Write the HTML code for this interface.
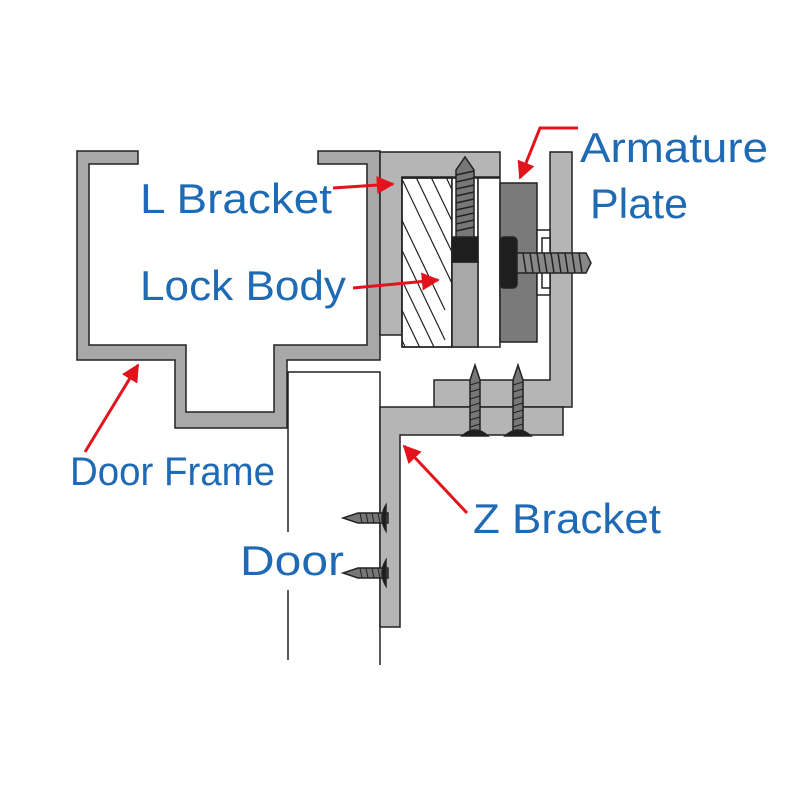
<!DOCTYPE html>
<html><head><style>html,body{margin:0;padding:0;background:#fff}svg{display:block}</style></head>
<body>
<svg width="800" height="800" viewBox="0 0 800 800" xmlns="http://www.w3.org/2000/svg">
<defs>
<clipPath id="lb"><rect x="402" y="178" width="50" height="169"/></clipPath>
<marker id="ah" viewBox="0 0 10 10" refX="9" refY="5" markerWidth="6" markerHeight="6" orient="auto"><path d="M0,0 L10,5 L0,10 z" fill="#e3131b"/></marker>
</defs>
<g stroke="#222" stroke-width="1.5">
<path d="M77,151 H138 V164 H89 V345 H186 V412 H274 V345 H367 V164 H318 V151 H380 V360 H287 V428 H175 V360 H77 Z" fill="#a8a8a8"/>
<path d="M288,660 V590 M288,532 V372 H380 V665" fill="none"/>
<path d="M380,152 H500 V177 H402 V335 H380 Z" fill="#b5b5b5"/>
<rect x="402" y="178" width="50" height="169" fill="#fff"/>
<g clip-path="url(#lb)" stroke-width="1.2">
<path d="M400,175 L460,300 M415,175 L475,300 M430,175 L490,300 M445,175 L505,300 M385,185 L445,310 M385,215 L445,340 M385,245 L445,370 M385,275 L445,400 M385,305 L445,430"/>
</g>
<rect x="402" y="178" width="50" height="169" fill="none"/>
<rect x="452" y="178" width="26" height="169" fill="#fff"/>
<rect x="478" y="178" width="22" height="169" fill="#fff"/>
<rect x="452" y="262" width="26" height="85" fill="#a8a8a8"/>
<rect x="452" y="237" width="26" height="25" fill="#1e1e1e"/>
<path d="M456,237 V170 L465,157 L474,170 V237 Z" fill="#777"/>
<path d="M456,175 L474,171 M456,182 L474,178 M456,189 L474,185 M456,196 L474,192 M456,203 L474,199 M456,210 L474,206 M456,217 L474,213 M456,224 L474,220 M456,231 L474,227" stroke-width="1.5"/>
<rect x="500" y="183" width="37" height="159" fill="#7a7a7a"/>
<path d="M434,380 H550 V152 H572 V407 H434 Z" fill="#b5b5b5"/>
<path d="M380,407 H563 V435 H400 V627 H380 Z" fill="#b5b5b5"/>
<rect x="537" y="230" width="13" height="65" fill="#fff"/>
<rect x="542" y="238" width="8" height="50" fill="#fff"/>
<rect x="500" y="237" width="17" height="51" rx="4" fill="#1e1e1e"/>
<path d="M517,253 H586 L591,263 L586,273 H517 Z" fill="#888"/>
<path d="M523,253 L526,273 M530,253 L533,273 M537,253 L540,273 M544,253 L547,273 M551,253 L554,273 M558,253 L561,273 M565,253 L568,273 M572,253 L575,273 M579,253 L582,273" stroke-width="1.5"/>
<g fill="#777">
<path d="M470,432 V380 L475,365 L480,380 V432 Z"/>
<path d="M513,432 V380 L518,365 L523,380 V432 Z"/>
<path d="M462,436 Q475,424 488,436 Z" fill="#1e1e1e"/>
<path d="M505,436 Q518,424 531,436 Z" fill="#1e1e1e"/>
<path d="M388,513 H358 L343,518 L358,523 H388 Z"/>
<path d="M388,568 H358 L343,573 L358,578 H388 Z"/>
<path d="M386,505 Q378,518 386,531 Z" fill="#1e1e1e"/>
<path d="M386,560 Q378,573 386,586 Z" fill="#1e1e1e"/>
</g>
<path d="M470,385 L480,382 M470,392 L480,389 M470,399 L480,396 M470,406 L480,403 M470,413 L480,410 M470,420 L480,417 M470,427 L480,424 M513,385 L523,382 M513,392 L523,389 M513,399 L523,396 M513,406 L523,403 M513,413 L523,410 M513,420 L523,417 M513,427 L523,424 M360,513 L362,523 M366,513 L368,523 M372,513 L374,523 M378,513 L380,523 M360,568 L362,578 M366,568 L368,578 M372,568 L374,578 M378,568 L380,578" stroke-width="1"/>
</g>
<g stroke="#e3131b" stroke-width="3" fill="none" marker-end="url(#ah)">
<path d="M333,188 L393,184"/>
<path d="M353,288 L438,280"/>
<path d="M578,128 H540 L520,178"/>
<path d="M85,452 L138,365"/>
<path d="M467,513 L404,446"/>
</g>
<g font-family="Liberation Sans, sans-serif" fill="#1f6ab4" font-size="42">
<text x="140" y="213" textLength="192" lengthAdjust="spacingAndGlyphs">L  Bracket</text>
<text x="140" y="300" textLength="206" lengthAdjust="spacingAndGlyphs">Lock Body</text>
<text x="580" y="162" textLength="188" lengthAdjust="spacingAndGlyphs">Armature</text>
<text x="590" y="218" textLength="98" lengthAdjust="spacingAndGlyphs">Plate</text>
<text x="70" y="485" font-size="40" textLength="205" lengthAdjust="spacingAndGlyphs">Door Frame</text>
<text x="473" y="533" textLength="188" lengthAdjust="spacingAndGlyphs">Z Bracket</text>
<text x="240" y="575" textLength="104" lengthAdjust="spacingAndGlyphs">Door</text>
</g>
</svg>
</body></html>
